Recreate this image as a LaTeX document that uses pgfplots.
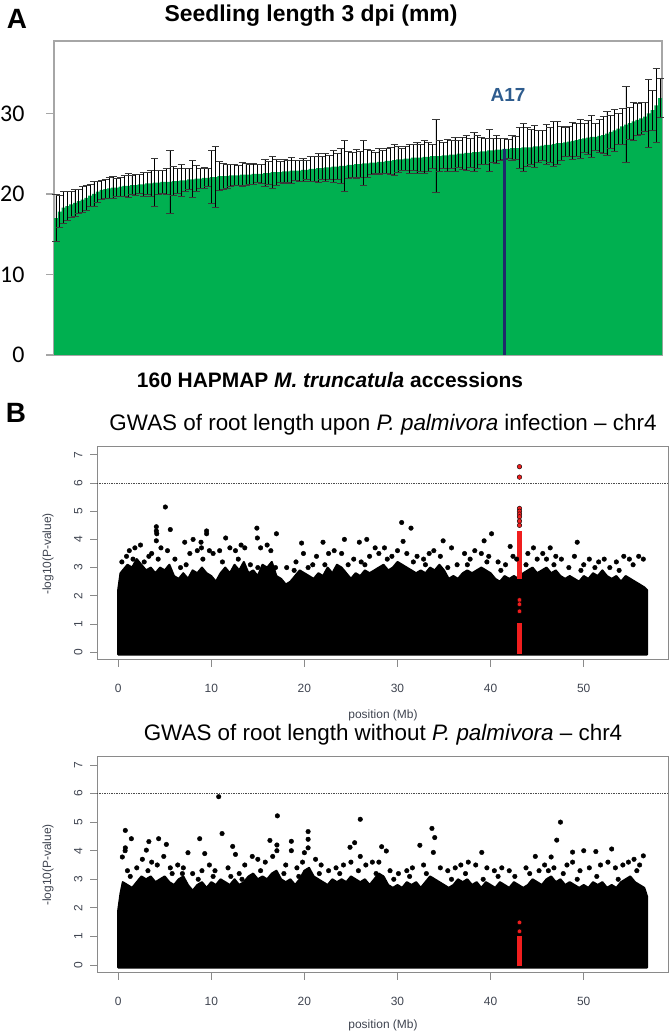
\documentclass[border=0pt]{standalone}
\usepackage{fontspec}
\setmainfont{Liberation Sans}
\newfontfamily\calibri{Carlito}
\usepackage{pgfplots}
\pgfplotsset{compat=1.18}
\usepackage{pgfplotstable}
\definecolor{bargreen}{HTML}{00B050}
\definecolor{navybar}{HTML}{1F2A6B}
\definecolor{aseventeen}{HTML}{2E5C8E}
\definecolor{axgray}{HTML}{A6A6A6}
\definecolor{rgray}{HTML}{3F4450}
\definecolor{boxgray}{HTML}{8A8A8A}
\definecolor{rred}{HTML}{F01E1E}
\definecolor{capgray}{HTML}{3A3A3A}

\pgfplotstableread{
i v e
0 17.0 2.9
1 17.8 2.0
2 18.3 2.0
3 18.5 1.8
4 18.7 1.6
5 18.9 1.7
6 19.1 1.5
7 19.3 1.6
8 19.5 1.5
9 19.8 1.4
10 20.0 1.5
11 20.3 1.3
12 20.5 1.2
13 20.6 1.2
14 20.7 1.3
15 20.8 1.4
16 20.8 1.1
17 20.9 1.2
18 21.0 1.3
19 21.0 1.5
20 21.1 1.2
21 21.1 1.3
22 21.2 1.2
23 21.2 1.5
24 21.3 1.4
25 21.3 1.6
26 21.4 3.0
27 21.4 1.5
28 21.5 1.4
29 21.5 1.6
30 21.5 3.9
31 21.6 1.8
32 21.6 1.6
33 21.7 2.0
34 21.7 1.4
35 21.8 1.3
36 21.8 2.3
37 21.9 1.6
38 21.9 1.2
39 22.0 1.3
40 22.0 1.1
41 22.1 3.3
42 22.1 3.8
43 22.2 1.8
44 22.2 1.6
45 22.2 1.5
46 22.3 1.4
47 22.3 1.3
48 22.3 1.2
49 22.4 1.5
50 22.4 1.4
51 22.4 1.2
52 22.5 1.3
53 22.5 1.1
54 22.5 1.2
55 22.6 1.7
56 22.6 1.4
57 22.7 2.0
58 22.7 1.6
59 22.7 1.3
60 22.8 1.5
61 22.8 1.4
62 22.9 1.6
63 22.9 1.2
64 22.9 1.3
65 23.0 1.4
66 23.0 1.2
67 23.1 1.5
68 23.1 1.6
69 23.2 1.8
70 23.2 1.4
71 23.3 1.7
72 23.3 1.5
73 23.4 2.0
74 23.4 1.6
75 23.5 2.2
76 23.5 3.2
77 23.6 1.7
78 23.6 1.5
79 23.7 1.8
80 23.7 1.6
81 23.8 2.8
82 23.8 1.7
83 23.9 1.5
84 23.9 1.3
85 24.0 1.6
86 24.0 1.4
87 24.1 1.5
88 24.1 1.7
89 24.2 1.9
90 24.3 1.6
91 24.3 1.4
92 24.4 1.5
93 24.4 1.8
94 24.5 1.6
95 24.5 1.9
96 24.5 1.7
97 24.6 2.0
98 24.6 1.8
99 24.7 1.5
100 24.7 4.5
101 24.7 1.9
102 24.8 1.6
103 24.8 2.0
104 24.9 1.8
105 24.9 2.1
106 25.0 1.7
107 25.0 2.0
108 25.1 2.2
109 25.1 1.8
110 25.2 2.4
111 25.2 2.0
112 25.3 1.7
113 25.3 1.6
114 25.4 2.6
115 25.4 1.5
116 25.5 1.7
117 25.5 1.4
118 25.6 1.3
119 25.6 1.2
120 25.7 1.5
121 25.7 1.4
122 25.7 2.6
123 25.8 3.0
124 25.8 2.4
125 25.8 2.2
126 25.9 2.6
127 25.9 2.0
128 26.0 1.9
129 26.1 2.5
130 26.1 2.2
131 26.2 2.8
132 26.3 2.7
133 26.3 2.1
134 26.4 1.8
135 26.5 1.9
136 26.6 2.3
137 26.7 2.0
138 26.8 2.4
139 26.9 1.8
140 27.0 2.1
141 27.1 2.6
142 27.1 1.7
143 27.2 2.0
144 27.3 2.3
145 27.5 2.7
146 27.7 2.0
147 27.9 2.6
148 28.1 1.9
149 28.4 2.2
150 28.6 4.7
151 28.8 2.0
152 29.0 2.4
153 29.2 2.0
154 29.4 2.0
155 29.6 1.8
156 30.0 4.2
157 30.4 2.5
158 31.0 4.6
159 31.9 2.4
}\seedling

\pgfplotsset{manh/.style={
  scale only axis, width=571bp,
  xmin=-2.27, xmax=59.05, ymin=-0.28, ymax=7.28,
  axis line style={boxgray, line width=1bp},
  xtick={0,10,20,30,40,50}, ytick={0,1,2,3,4,5,6,7},
  tick align=outside, tick pos=left, major tick length=7bp,
  tick style={boxgray, line width=0.8bp},
  /pgf/number format/assume math mode=true,
  xticklabel style={font=\fontsize{12}{14}\selectfont, text=rgray},
  yticklabel style={font=\fontsize{12}{14}\selectfont, text=rgray, rotate=90, anchor=south},
  xticklabel shift=14bp, yticklabel shift=4bp,
  clip=false,
}}

\begin{document}
\begin{tikzpicture}[x=1bp,y=1bp]
\path[use as bounding box] (0,0) rectangle (670,1034);

% ---------------- Panel A ----------------
\begin{axis}[
  at={(54bp,679bp)}, anchor=south west,
  scale only axis, width=608bp, height=314bp,
  xmin=-0.5, xmax=159.5, ymin=0, ymax=39,
  axis line style={axgray, line width=1.2bp},
  xtick=\empty, ytick={0,10,20,30},
  tick align=outside, tick pos=left, major tick length=8bp,
  ytick style={axgray, line width=1.2bp},
  /pgf/number format/assume math mode=true,
  yticklabel style={font=\calibri\fontsize{24}{27}\selectfont},
  yticklabel shift=18bp,
  clip=false,
]
\addplot[ybar, bar width=1, fill=bargreen, draw=none,
  error bars/.cd, y dir=both, y explicit,
  error bar style={black, line width=0.7bp},
  error mark=-,
  error mark options={rotate=90, draw=capgray, fill=capgray, line width=1bp, mark size=3.6bp}]
  table[x=i, y=v, y error=e] {\seedling};
\addplot[ybar, bar width=0.75, fill=navybar, draw=none] coordinates {(118,25.6)};
\node[font=\bfseries\fontsize{19}{22}\selectfont, text=aseventeen] at (axis cs:119,32.3) {A17};
\end{axis}

\node[font=\bfseries\fontsize{28}{32}\selectfont] at (17,1015) {A};
\node[font=\bfseries\fontsize{23}{26}\selectfont] at (311,1018) {Seedling length 3 dpi (mm)};
\node[font=\bfseries\fontsize{21}{24}\selectfont] at (330,654) {160 HAPMAP \textit{M. truncatula} accessions};

% ---------------- Panel B top ----------------
\begin{axis}[manh, at={(97bp,374bp)}, anchor=south west, height=213bp]
\addplot[fill=black, draw=black, line width=2bp, line join=round] coordinates {
(0,-0.09) (0,2.2) (0.25,2.8) (0.5,2.9) (1.0,3.1) (1.5,3.0) (2.0,3.3) (2.5,3.1) (3.0,2.9) (3.5,3.0)
(4.0,2.8) (4.5,3.0) (5.0,2.9) (5.5,3.1) (6.0,2.7) (6.5,2.6) (7.0,2.8) (7.5,2.6) (8.0,2.9) (8.5,2.8)
(9.0,3.0) (9.5,2.8) (10.0,2.7) (10.5,2.5) (11.0,2.8) (11.5,3.0) (12.0,2.8) (12.5,3.1) (13.0,2.9) (13.5,3.2)
(14.0,2.8) (14.5,2.9) (15.0,2.7) (15.5,3.1) (16.0,3.0) (16.5,3.2) (17.0,2.7) (17.5,2.6) (18.0,2.4) (18.5,2.5)
(19.0,2.7) (19.5,2.9) (20.0,2.8) (20.5,2.7) (21.0,2.6) (21.5,2.8) (22.0,2.7) (22.5,3.0) (23.0,2.8) (23.5,3.1)
(24.0,3.0) (24.5,2.8) (25.0,2.6) (25.5,2.8) (26.0,2.7) (26.5,2.9) (27.0,2.8) (27.5,2.9) (28.0,3.0) (28.5,3.1)
(29.0,2.9) (29.5,3.0) (30.0,3.2) (30.5,3.1) (31.0,3.0) (31.5,2.9) (32.0,2.8) (32.5,2.9) (33.0,2.8) (33.5,3.0)
(34.0,2.9) (34.5,3.1) (35.0,2.9) (35.5,2.6) (36.0,2.7) (36.5,2.6) (37.0,2.8) (37.5,2.9) (38.0,2.8) (38.5,2.9)
(39.0,3.0) (39.5,2.9) (40.0,2.8) (40.5,2.6) (41.0,2.5) (41.5,2.7) (42.0,2.6) (42.5,2.7) (43.0,2.6) (43.5,2.8)
(44.0,2.9) (44.5,3.0) (45.0,2.8) (45.5,2.9) (46.0,3.0) (46.5,2.8) (47.0,2.9) (47.5,2.7) (48.0,2.6) (48.5,2.7)
(49.0,2.6) (49.5,2.5) (50.0,2.7) (50.5,2.6) (51.0,2.8) (51.5,2.7) (52.0,2.9) (52.5,2.7) (53.0,2.6) (53.5,2.7)
(54.0,2.5) (54.5,2.7) (55.0,2.6) (55.5,2.5) (56.0,2.4) (56.5,2.3) (56.8,2.2) (56.8,-0.09)} -- cycle;
\addplot[only marks, mark=*, mark size=2.3bp, mark options={fill=black, draw=none}] coordinates {
(5.07,5.15) (4.1,4.45) (4.1,4.3) (4.15,4.2) (4.1,3.95) (5.6,4.35) (7.15,3.9) (8.05,4.0) (8.9,3.9) (8.95,3.7)
(9.5,4.3) (9.5,4.2) (11.55,4.05) (14.9,4.4) (14.95,4.05) (17.0,4.2) (19.7,3.87) (22.0,3.9) (30.45,4.6) (31.45,4.4)
(30.6,3.93) (24.3,4.0) (25.9,3.9) (26.7,4.0) (27.6,3.7) (34.9,3.95) (35.8,3.7) (39.3,3.95) (40.1,4.2) (42.1,3.75)
(46.4,3.7) (49.3,3.9) (44.6,3.7)
(1.2,3.6) (1.8,3.7) (2.4,3.8) (3.3,3.4) (3.6,3.5) (4.6,3.7) (5.3,3.6) (6.1,3.3) (7.7,3.5) (8.5,3.6)
(9.8,3.6) (10.2,3.5) (10.9,3.6) (12.0,3.7) (12.6,3.6) (13.2,3.8) (13.6,3.7) (15.3,3.7) (16.0,3.8) (16.4,3.6)
(18.1,3.0) (19.1,3.2) (19.9,3.5) (20.9,3.1) (21.3,3.4) (22.6,3.5) (23.2,3.6) (24.0,3.5) (25.3,3.3) (26.1,3.2)
(27.0,3.4) (28.0,3.5) (28.6,3.7) (29.4,3.4) (30.0,3.6) (31.0,3.5) (32.1,3.4) (32.8,3.3) (33.4,3.5) (33.9,3.6)
(34.6,3.4) (36.4,3.1) (37.2,3.5) (37.8,3.3) (38.3,3.6) (39.0,3.5) (39.8,3.4) (40.8,3.2) (41.6,3.1) (42.4,3.4)
(42.8,3.3) (44.0,3.5) (45.0,3.3) (45.6,3.5) (46.0,3.3) (47.0,3.4) (47.6,3.3) (48.4,3.0) (49.0,3.4) (50.0,3.1)
(50.6,3.3) (51.6,3.2) (52.2,3.3) (52.8,3.0) (53.5,3.2) (54.3,3.4) (54.9,3.3) (55.3,3.1) (55.9,3.4) (56.4,3.3)
(0.4,3.2) (0.9,3.4) (1.6,3.3) (2.8,3.2) (4.3,3.3) (6.7,3.0) (7.3,3.1) (9.1,3.3) (11.2,3.2) (12.9,3.3)
(14.2,3.1) (15.0,3.0) (16.9,3.0) (18.9,2.9) (20.4,3.0) (22.2,3.1) (24.7,3.1) (26.5,3.1) (28.9,3.3) (31.7,3.2)
(33.0,3.1) (35.4,3.0) (37.5,3.1) (39.6,3.2) (41.1,2.9) (43.8,3.1) (46.8,3.1) (49.7,2.9) (51.2,3.0) (53.8,2.9)};
\addplot[rred, line width=4.6bp] coordinates {(43.1,-0.05) (43.1,1.05)};
\addplot[rred, line width=4.6bp] coordinates {(43.1,2.6) (43.1,4.3)};
\addplot[only marks, mark=*, mark size=2.3bp, mark options={fill=rred, draw=none}] coordinates {
(43.1,6.58) (43.1,6.21) (43.1,5.1) (43.1,5.0) (43.1,4.9) (43.1,4.8) (43.1,4.65) (43.1,4.5)
(43.1,1.85) (43.1,1.7) (43.1,1.45)};
\addplot[black!70, densely dotted, line width=0.7bp] coordinates {(-2.27,6) (59.05,6)};
\end{axis}
\node[font=\bfseries\fontsize{28}{32}\selectfont] at (16,621) {B};
\node[font=\fontsize{22.5}{26}\selectfont] at (383,609) {GWAS of root length upon \textit{P. palmivora} infection -- chr4};
\node[font=\fontsize{12}{14}\selectfont, text=rgray, rotate=90] at (48,480) {-log10(P-value)};
\node[font=\fontsize{12}{14}\selectfont, text=rgray] at (383,319) {position (Mb)};

% ---------------- Panel B bottom ----------------
\begin{axis}[manh, at={(97bp,61bp)}, anchor=south west, height=216bp]
\addplot[fill=black, draw=black, line width=2bp, line join=round] coordinates {
(0,-0.09) (0,1.9) (0.25,2.5) (0.5,2.9) (1.0,2.8) (1.5,2.7) (2.0,2.9) (2.5,3.1) (3.0,3.0) (3.5,3.1)
(4.0,2.9) (4.5,3.0) (5.0,3.1) (5.5,2.9) (6.0,2.8) (6.5,3.0) (7.0,3.1) (7.5,2.8) (8.0,2.6) (8.5,2.8)
(9.0,2.9) (9.5,2.7) (10.0,2.9) (10.5,2.8) (11.0,3.0) (11.5,2.9) (12.0,2.8) (12.5,3.0) (13.0,2.8) (13.5,2.9)
(14.0,3.1) (14.5,3.2) (15.0,3.0) (15.5,3.1) (16.0,3.0) (16.5,3.2) (17.0,3.3) (17.5,3.0) (18.0,2.9) (18.5,3.0)
(19.0,2.8) (19.5,3.0) (20.0,3.3) (20.5,3.4) (21.0,3.1) (21.5,3.0) (22.0,2.9) (22.5,2.8) (23.0,3.0) (23.5,2.9)
(24.0,3.0) (24.5,2.9) (25.0,3.1) (25.5,3.0) (26.0,2.9) (26.5,3.0) (27.0,2.8) (27.5,3.0) (28.0,3.2) (28.5,3.1)
(29.0,2.8) (29.5,2.7) (30.0,2.8) (30.5,2.7) (31.0,2.9) (31.5,2.8) (32.0,2.9) (32.5,2.7) (33.0,2.9) (33.5,3.1)
(34.0,3.0) (34.5,2.9) (35.0,2.8) (35.5,2.7) (36.0,2.8) (36.5,3.0) (37.0,2.9) (37.5,3.0) (38.0,2.8) (38.5,2.9)
(39.0,2.7) (39.5,2.9) (40.0,2.8) (40.5,2.7) (41.0,2.9) (41.5,2.8) (42.0,2.7) (42.5,2.9) (43.0,2.8) (43.5,2.7)
(44.0,2.8) (44.5,3.0) (45.0,2.9) (45.5,2.8) (46.0,3.0) (46.5,3.1) (47.0,2.9) (47.5,3.0) (48.0,2.8) (48.5,2.9)
(49.0,2.8) (49.5,2.7) (50.0,2.8) (50.5,2.7) (51.0,2.9) (51.5,2.8) (52.0,2.9) (52.5,2.7) (53.0,2.8) (53.5,2.7)
(54.0,2.9) (54.5,3.0) (55.0,3.1) (55.5,2.9) (56.0,2.8) (56.5,2.7) (56.8,2.4) (56.8,-0.09)} -- cycle;
\addplot[only marks, mark=*, mark size=2.3bp, mark options={fill=black, draw=none}] coordinates {
(10.8,5.89) (17.1,5.22) (0.77,4.71) (1.42,4.42) (0.77,4.1) (0.75,4.0) (0.45,3.78) (3.03,4.02) (3.3,4.32) (4.35,4.42)
(5.18,4.22) (8.76,4.42) (9.3,3.9) (11.16,4.6) (12.3,4.15) (12.6,3.87) (7.5,3.93) (16.3,4.36) (17.05,4.2) (17.05,4.0)
(18.6,4.33) (18.6,4.0) (20.4,4.67) (20.4,4.4) (20.4,4.1) (20.0,3.93) (26.0,5.1) (33.7,4.78) (34.0,4.46) (33.85,3.94)
(32.4,4.19) (47.5,5.0) (47.1,4.37) (25.4,4.28) (24.9,4.12) (28.3,4.14) (28.8,3.99) (39.05,3.94) (44.8,3.8) (46.5,3.78)
(48.8,3.95) (50.0,4.0) (51.3,3.97) (53.0,4.06) (56.4,3.82) (26.0,3.8) (27.3,3.6)
(1.0,3.3) (2.0,3.4) (2.6,3.7) (3.6,3.6) (4.2,3.5) (4.9,3.8) (5.6,3.4) (6.4,3.5) (7.0,3.4) (8.0,3.2)
(9.0,3.3) (9.8,3.5) (10.4,3.3) (11.8,3.4) (13.0,3.2) (13.6,3.5) (14.4,3.8) (15.0,3.7) (15.8,3.6) (16.6,3.8)
(18.0,3.5) (19.2,3.4) (19.8,3.6) (21.2,3.7) (21.8,3.5) (22.6,3.3) (23.4,3.4) (24.2,3.5) (25.0,3.6) (26.6,3.5)
(28.0,3.6) (29.2,3.3) (30.1,3.2) (31.0,3.3) (31.6,3.4) (32.8,3.5) (34.6,3.4) (35.4,3.3) (36.2,3.4) (36.8,3.5)
(37.6,3.6) (38.4,3.5) (39.6,3.4) (40.4,3.3) (41.2,3.4) (42.0,3.3) (43.8,3.4) (45.2,3.3) (45.8,3.5) (46.8,3.4)
(48.2,3.5) (48.8,3.6) (49.6,3.3) (50.6,3.4) (51.8,3.5) (52.6,3.6) (53.4,3.4) (54.2,3.5) (54.8,3.6) (55.4,3.7)
(56.0,3.5)
(1.3,3.1) (3.2,3.3) (5.8,3.2) (6.9,3.2) (8.6,3.0) (10.2,3.1) (12.1,3.1) (13.3,3.0) (15.3,3.3) (17.8,3.2)
(19.4,3.1) (21.6,3.2) (23.8,3.2) (25.8,3.3) (27.7,3.2) (29.6,3.0) (31.3,3.1) (33.1,3.2) (35.8,3.0) (37.3,3.2)
(39.2,3.0) (40.8,3.1) (42.6,3.1) (44.2,3.2) (46.2,3.3) (47.8,3.2) (49.3,3.0) (51.4,3.1) (53.7,3.0) (55.7,3.3)};
\addplot[rred, line width=4.6bp] coordinates {(43.1,-0.05) (43.1,1.0)};
\addplot[only marks, mark=*, mark size=2.3bp, mark options={fill=rred, draw=none}] coordinates {
(43.1,1.18) (43.1,1.49)};
\addplot[black!70, densely dotted, line width=0.7bp] coordinates {(-2.27,6) (59.05,6)};
\end{axis}
\node[font=\fontsize{22.5}{26}\selectfont] at (383,299) {GWAS of root length without \textit{P. palmivora} -- chr4};
\node[font=\fontsize{12}{14}\selectfont, text=rgray, rotate=90] at (48,169) {-log10(P-value)};
\node[font=\fontsize{12}{14}\selectfont, text=rgray] at (383,9) {position (Mb)};
\end{tikzpicture}
\end{document}
